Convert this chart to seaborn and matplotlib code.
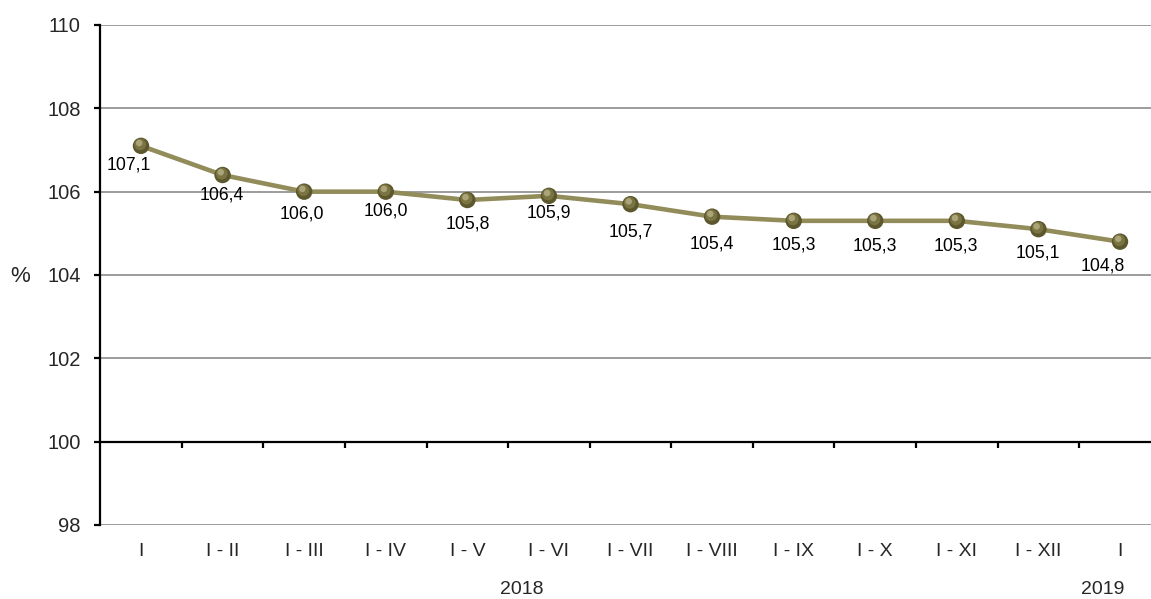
import numpy as np
import pandas as pd
import matplotlib
matplotlib.use("Agg")
import matplotlib.pyplot as plt
import matplotlib.transforms as mtransforms
import seaborn as sns

# ---- data ----
categories = ["I", "I - II", "I - III", "I - IV", "I - V", "I - VI", "I - VII",
              "I - VIII", "I - IX", "I - X", "I - XI", "I - XII", "I"]
values = [107.1, 106.4, 106.0, 106.0, 105.8, 105.9, 105.7, 105.4, 105.3, 105.3, 105.3, 105.1, 104.8]
value_labels = ["107,1", "106,4", "106,0", "106,0", "105,8", "105,9", "105,7",
                "105,4", "105,3", "105,3", "105,3", "105,1", "104,8"]
y_ticks = [98, 100, 102, 104, 106, 108, 110]
year_labels = ["2018", "2019"]

# ---- style ----
sns.set_style("white")
plt.rcParams["font.family"] = ["Liberation Sans", "DejaVu Sans"]

line_color = "#928c5a"
marker_color = "#5c572c"
# label offsets in pixels (dx, dy downward)
label_dx = [-12, -1, -2, 0, 0, 0, 0, 0, 0, 0, -1, -1, -17]
label_dy = [19, 20, 22, 19, 24, 17, 28, 27, 24, 25, 25, 24, 24]
year_x = [4.67, 11.79]

W, H, DPI = 1151, 599, 100
fig = plt.figure(figsize=(W / DPI, H / DPI), dpi=DPI)
ax_left, ax_right = 100.2, 1160.8
ax_top, ax_bottom = 25, 525
ax = fig.add_axes([ax_left / W, (H - ax_bottom) / H, (ax_right - ax_left) / W, (ax_bottom - ax_top) / H])

df = pd.DataFrame({"pos": np.arange(len(categories)), "value": values})

ax.set_xlim(-0.5, len(categories) - 0.5)
ax.set_ylim(98, 110)

# gridlines
ax.set_yticks(y_ticks)
ax.yaxis.grid(True, color="#9c9c9c", linewidth=1.4)
ax.set_axisbelow(True)

sns.lineplot(data=df, x="pos", y="value", ax=ax, color=line_color, linewidth=3.3,
             zorder=3, legend=False)

# sphere-like markers
sns.scatterplot(data=df, x="pos", y="value", ax=ax, color=marker_color, s=140,
                edgecolor="none", zorder=4, legend=False)
off1 = mtransforms.ScaledTranslation(-0.6 / 72, 1.0 / 72, fig.dpi_scale_trans)
ax.scatter(df["pos"], df["value"], s=72, color="#7a7443", edgecolor="none",
           zorder=5, transform=ax.transData + off1)
off2 = mtransforms.ScaledTranslation(-1.3 / 72, 2.0 / 72, fig.dpi_scale_trans)
ax.scatter(df["pos"], df["value"], s=22, color="#aaa478", edgecolor="none",
           zorder=6, transform=ax.transData + off2)

# value labels
for i, (v, lab) in enumerate(zip(values, value_labels)):
    ax.annotate(lab, (i, v), xytext=(label_dx[i] * 0.72, -label_dy[i] * 0.72),
                textcoords="offset points", ha="center", va="center",
                fontsize=12.7, color="black", zorder=7)

# spines
for s in ["top", "right"]:
    ax.spines[s].set_visible(False)
ax.spines["left"].set_color("black")
ax.spines["left"].set_linewidth(1.6)
ax.spines["bottom"].set_position(("data", 100))
ax.spines["bottom"].set_color("black")
ax.spines["bottom"].set_linewidth(1.6)
ax.spines["left"].set_zorder(8)

# y ticks
ax.tick_params(axis="y", which="major", direction="out", length=4, width=1.6,
               color="black", labelsize=14.5, pad=10, left=True)
ax.set_yticklabels([str(t) for t in y_ticks])

# x ticks: labels at category centers, tick marks between categories
ax.set_xticks(df["pos"])
ax.set_xticklabels(categories)
ax.tick_params(axis="x", which="major", length=0, labelsize=14, pad=73, bottom=True)
ax.set_xticks(np.arange(len(categories)) + 0.5, minor=True)
ax.tick_params(axis="x", which="minor", direction="out", length=4, width=1.6,
               color="black", bottom=True)
ax.set_xlabel("")
ax.set_ylabel("")

# year labels
trans = mtransforms.blended_transform_factory(ax.transData, fig.transFigure)
for x, lab in zip(year_x, year_labels):
    ax.text(x, (H - 590) / H, lab, transform=trans, ha="center", va="center",
            fontsize=14, clip_on=False)

fig.text(20 / W, (H - 277) / H, "%", ha="center", va="center", fontsize=16)

fig.savefig("out.png", dpi=DPI)
